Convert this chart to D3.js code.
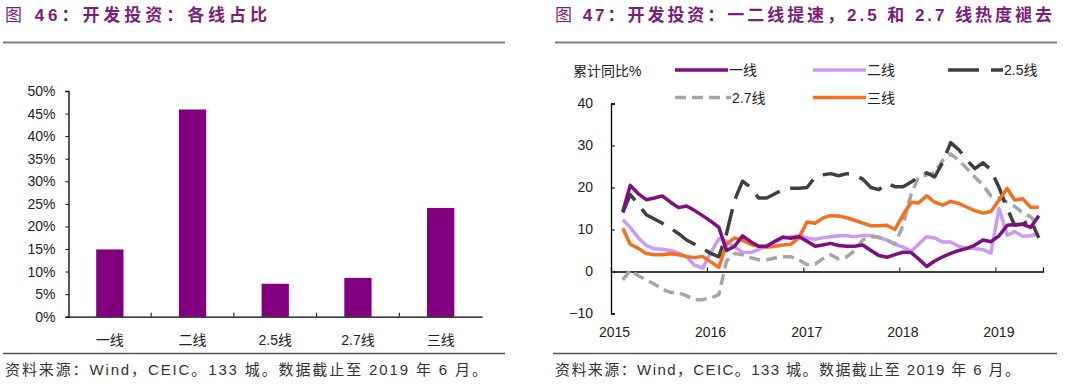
<!DOCTYPE html>
<html><head><meta charset="utf-8">
<script src="https://cdn.jsdelivr.net/npm/d3@7/dist/d3.min.js"></script>
<style>
body{margin:0;background:#fff;}
svg{display:block;}
text{font-family:"Liberation Sans","Noto Sans CJK SC",sans-serif;}
</style></head>
<body>
<svg id="c" width="1080" height="388"></svg>
<script>
// ---------- data ----------
const barCats = ["一线","二线","2.5线","2.7线","三线"];
const barVals = [14.9, 45.9, 7.3, 8.6, 24.1];
const barTicks = [0,5,10,15,20,25,30,35,40,45,50];

const seriesNames = ["一线","二线","2.5线","2.7线","三线"];
const startMonth = "2015-02"; // monthly, through 2019-06
const tier1 = [14.3,20.5,18.5,17.1,17.5,18,16.5,15.2,15.6,14.5,13.3,12,10.5,5,6,8.5,7.1,6,6,7.2,8.2,7.9,8.3,7.2,6,6.3,6.7,6.2,6,6,6.3,5,3.8,3.4,4,4.6,4.5,3,1.2,2.5,3.5,4.3,5,5.5,6.3,7.5,7.1,8.5,11,11.2,11.2,10.5,13.3];
const tier2 = [12.3,10.5,8,6.2,5.4,5.3,5,4.4,3.5,1.5,0.8,4.5,7.8,7.2,5.8,4.6,4.5,5.2,6.2,7,7.8,8.3,8.6,8,7.7,8,8.3,8.5,8.5,8.3,8.6,8.6,8,7.5,6.5,5.8,4.8,6.5,8.3,8,7,7,6,5.6,5.5,5.2,4.4,15,8.6,9.5,8.4,8.5,9];
const tier25 = [14,18.3,16,13.5,12.5,11.5,10.3,9,7.5,6.5,5.5,4.3,3.5,9,17,21.5,20,17.5,17.5,18.5,19.5,19.8,19.8,20,22.5,23,23.3,22.8,23.3,23,22,20,19.5,21,20.2,20.2,21.3,22.6,23.5,22.5,26,30.7,29,26.5,24.5,25.9,24.2,20,15,11,11.3,12.3,8];
const tier27 = [-2,0.3,-1,-2,-3,-4.2,-5,-5,-5.8,-6.7,-6.7,-6.3,-5.5,2.5,4.3,4,3.3,2.8,2.8,3.2,3.5,3.5,2.8,1.6,1.8,3,4,3,3.5,5,7.5,8.3,8.2,7.5,6.5,11,18.5,22.5,23,23.5,26.5,28,26.5,24.5,22.5,20.5,18,17.5,16.5,15.5,14,13,11];
const tier3 = [10.3,6.5,5.5,4.3,4,4,4.2,4,3.6,3.3,3.6,2.3,1,6.5,8,7.4,6.5,6,5.8,6,6.3,6.5,8,11.8,11.5,12.7,13.3,13.2,12.8,12.2,11.5,10.9,10.9,11,10,13.5,16.5,16.3,18,16.5,15.8,16.7,16.2,15.3,14.5,13.9,14.3,17,19.8,17,17.3,15.3,15.3];
const lineTicksY = [-10,0,10,20,30,40];
const lineTicksX = ["2015","2016","2017","2018","2019"];

const svg = d3.select("#c");
const TITLE = "#7B1E7A";

// ---------- titles & footers ----------
function title(x, w, parts){
  const t = svg.append("text").attr("x",x).attr("y",21).attr("font-size",17)
    .attr("fill",TITLE).attr("textLength",w).attr("lengthAdjust","spacing");
  parts.forEach(p=>t.append("tspan").attr("font-weight",p[1]).text(p[0]));
}
title(5, 262, [["图 ","normal"],["46：开发投资：各线占比","bold"]]);
title(555, 497, [["图 ","normal"],["47：开发投资：一二线提速，2.5 和 2.7 线热度褪去","bold"]]);
svg.append("line").attr("x1",3).attr("x2",505).attr("y1",42.5).attr("y2",42.5).attr("stroke","#7f7f7f").attr("stroke-width",2);
svg.append("line").attr("x1",555).attr("x2",1057).attr("y1",42.5).attr("y2",42.5).attr("stroke","#7f7f7f").attr("stroke-width",2);
svg.append("line").attr("x1",3).attr("x2",505).attr("y1",353.5).attr("y2",353.5).attr("stroke","#555").attr("stroke-width",1.3);
svg.append("line").attr("x1",553).attr("x2",1057).attr("y1",353.5).attr("y2",353.5).attr("stroke","#555").attr("stroke-width",1.3);
const foot = "资料来源：Wind，CEIC。133 城。数据截止至 2019 年 6 月。";
svg.append("text").attr("x",5).attr("y",375).attr("font-size",15).attr("fill","#333").attr("textLength",482).attr("lengthAdjust","spacing").text(foot);
svg.append("text").attr("x",555).attr("y",375).attr("font-size",15).attr("fill","#333").attr("textLength",465).attr("lengthAdjust","spacing").text(foot);

// ---------- left bar chart ----------
const BAR = "#800080";
const xb = d3.scaleBand().domain(barCats).range([68.5, 482]).paddingInner(0.67).paddingOuter(0.335);
const xbFull = d3.scaleBand().domain(barCats).range([68.5, 482]).padding(0);
const yb = d3.scaleLinear().domain([0,50]).range([316.7, 91]);
const gl = svg.append("g");
gl.selectAll("rect.bar").data(barVals).enter().append("rect")
  .attr("x",(d,i)=>xb(barCats[i])).attr("width",xb.bandwidth())
  .attr("y",d=>yb(d)).attr("height",d=>yb(0)-yb(d)).attr("fill",BAR);
const yAxisL = gl.append("g").attr("transform","translate(68.5,0)")
  .call(d3.axisLeft(yb).tickValues(barTicks).tickFormat(d=>d+"%").tickSize(3).tickPadding(10));
yAxisL.select(".domain").attr("stroke","#000").attr("stroke-width",1.3);
yAxisL.selectAll(".tick line").attr("stroke","#000");
yAxisL.selectAll("text").attr("font-size",14).attr("fill","#222").attr("font-family","Liberation Sans");
const xAxisL = gl.append("g").attr("transform","translate(0,316.7)")
  .call(d3.axisBottom(xbFull).tickSize(0).tickPadding(18));
xAxisL.select(".domain").attr("stroke","#000").attr("stroke-width",1.3);
xAxisL.selectAll("text").attr("font-size",14).attr("fill","#222");
// category separators
gl.selectAll("line.sep").data(barCats.slice(1)).enter().append("line")
  .attr("x1",d=>xbFull(d)).attr("x2",d=>xbFull(d)).attr("y1",312.7).attr("y2",316.7).attr("stroke","#000");

// ---------- right line chart ----------
const parse = d3.timeParse("%Y-%m");
const months = d3.timeMonth.range(parse(startMonth), d3.timeMonth.offset(parse("2019-06"),1))
  .map(d=>new Date(d.getFullYear(), d.getMonth(), 15));
const xl = d3.scaleTime().domain([new Date(2015,0,1), new Date(2019,6,1)]).range([611, 1043]);
const yl = d3.scaleLinear().domain([-10,40]).range([313.5, 103.5]);
const gr = svg.append("g");

const yAxisR = gr.append("g").attr("transform","translate(611,0)")
  .call(d3.axisRight(yl).tickValues(lineTicksY).tickSize(4).tickFormat(d3.format("d")));
yAxisR.select(".domain").attr("stroke","#000").attr("stroke-width",1.3);
yAxisR.selectAll(".tick line").attr("stroke","#000");
yAxisR.selectAll("text").attr("x",-18).attr("text-anchor","end").attr("font-size",14).attr("fill","#222");

const xAxisR = gr.append("g").attr("transform",`translate(0,${yl(0)})`)
  .call(d3.axisTop(xl).tickValues(lineTicksX.map(y=>new Date(+y,0,1))).tickSize(4).tickFormat(d3.timeFormat("%Y")));
xAxisR.select(".domain").attr("stroke","#000").attr("stroke-width",1.3);
xAxisR.selectAll(".tick line").attr("stroke","#000");
xAxisR.selectAll("text").attr("y", 331.5 - yl(0) + 5).attr("dx",3).attr("font-size",14).attr("fill","#222");

const series = [
  {name:"二线", vals:tier2, color:"#C99BF2", dash:null},
  {name:"2.7线", vals:tier27, color:"#A6A6A6", dash:"11,6"},
  {name:"2.5线", vals:tier25, color:"#3F3F3F", dash:"27,11"},
  {name:"三线", vals:tier3, color:"#F36F21", dash:null},
  {name:"一线", vals:tier1, color:"#7E0F7E", dash:null}
];
const line = d3.line().x((d,i)=>xl(months[i])).y(d=>yl(d)).curve(d3.curveLinear);
series.forEach(s=>{
  gr.append("path").datum(s.vals).attr("d",line).attr("fill","none")
    .attr("stroke",s.color).attr("stroke-width",3.5).attr("stroke-linejoin","round")
    .attr("stroke-dasharray",s.dash);
});

// legend
const lg = svg.append("g");
lg.append("text").attr("x",573).attr("y",76).attr("font-size",14).attr("fill","#222").text("累计同比%");
const legendItems = [
  {name:"一线", color:"#7E0F7E", dash:null, x:675, y:70, w:53},
  {name:"二线", color:"#C99BF2", dash:null, x:813, y:70, w:53},
  {name:"2.5线", color:"#3F3F3F", dash:"31,12", x:948, y:70, w:55},
  {name:"2.7线", color:"#A6A6A6", dash:"11,6", x:675, y:97.5, w:56},
  {name:"三线", color:"#F36F21", dash:null, x:813, y:97.5, w:53}
];
legendItems.forEach(it=>{
  lg.append("line").attr("x1",it.x).attr("x2",it.x+it.w).attr("y1",it.y).attr("y2",it.y)
    .attr("stroke",it.color).attr("stroke-width",3.5).attr("stroke-dasharray",it.dash);
  lg.append("text").attr("x",it.x+it.w+1).attr("y",it.y+5).attr("font-size",14).attr("fill","#222").text(it.name);
});
</script>
</body></html>
